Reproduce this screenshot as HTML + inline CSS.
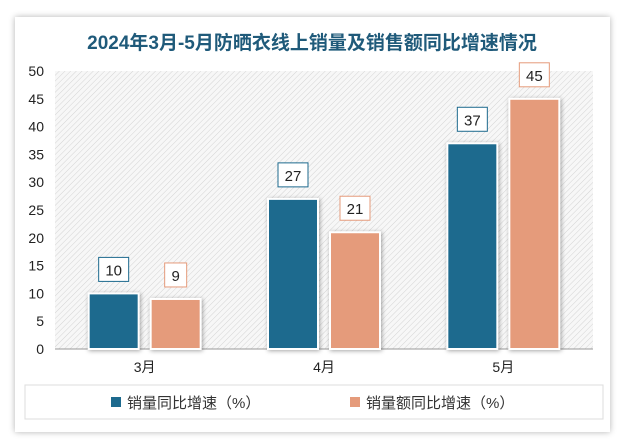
<!DOCTYPE html>
<html><head><meta charset="utf-8"><style>
body{margin:0;width:624px;height:445px;background:#fff;font-family:"Liberation Sans","Noto Sans CJK SC",sans-serif;overflow:hidden}
#card{position:absolute;left:15px;top:17px;width:595px;height:415px;background:#fff;box-shadow:0 0 6px rgba(0,0,0,0.3)}
</style></head><body>
<div id="card"></div>
<svg id="c" width="624" height="445" style="position:absolute;left:0;top:0">
<defs><pattern id="hatch" width="4" height="4" patternUnits="userSpaceOnUse" patternTransform="rotate(45)"><rect width="4" height="4" fill="#f7f7f7"/><line x1="0" y1="0" x2="0" y2="4" stroke="#d4d4d4" stroke-width="1"/></pattern></defs>
<text x="312" y="49" text-anchor="middle" font-size="19" fill="#1f5a7a" font-weight="bold">2024年3月-5月防晒衣线上销量及销售额同比增速情况</text>
<rect x="55" y="71" width="538" height="278" fill="url(#hatch)"/>
<line x1="55" y1="349" x2="593" y2="349" stroke="#999"/>
<g id="yt"></g><g id="bars"></g><g id="xl"></g>
<rect x="25" y="385" width="578" height="34" fill="none" stroke="#ddd"/>
<g><rect x="111" y="397" width="10" height="10" fill="#1d6a8e"/><text x="127" y="408" font-size="15" fill="#333">销量同比增速（%）</text></g>
<g><rect x="350" y="397" width="10" height="10" fill="#e59b7b"/><text x="366" y="408" font-size="15" fill="#333">销量额同比增速（%）</text></g>
</svg>
<script>
const categories=["3月","4月","5月"];
const salesVolume=[10,27,37];
const salesAmount=[9,21,45];
const yTicks=[0,5,10,15,20,25,30,35,40,45,50];
const svg=document.getElementById('c'),NS="http://www.w3.org/2000/svg";
const X0=55,X1=593,Y0=349,Y1=71,YMAX=50;
const y=v=>Y0-(Y0-Y1)*v/YMAX;
const band=(X1-X0)/categories.length;
function mk(t,a,p){const e=document.createElementNS(NS,t);for(const k in a)e.setAttribute(k,a[k]);p.appendChild(e);return e;}
const yt=document.getElementById('yt');
yTicks.forEach(v=>{const t=mk('text',{x:44,y:y(v)+5,'text-anchor':'end','font-size':14,fill:'#222'},yt);


t.textContent=v;});
const bars=document.getElementById('bars'),xl=document.getElementById('xl');
const series=[{d:salesVolume,c:'#1d6a8e',n:'volume'},{d:salesAmount,c:'#e59b7b',n:'amount'}];
categories.forEach((cat,i)=>{const cx=X0+band*(i+0.5);
const t=mk('text',{x:cx,y:372,'text-anchor':'middle','font-size':14,fill:'#222'},xl);


t.textContent=cat;
series.forEach((s,j)=>{const bx=cx-56+j*62,v=s.d[i];
const r=mk('rect',{x:bx,y:y(v),width:50,height:Y0-y(v),fill:s.c,stroke:'#fff','stroke-width':2,style:'filter:drop-shadow(1px 1px 2px rgba(0,0,0,0.35))'},bars);


const w=String(v).length>1?30:22,ly=y(v)-36;
const b=mk('rect',{x:bx+25-w/2,y:ly,width:w,height:24,fill:'#fff',stroke:s.c,'stroke-width':1},bars);


const lt=mk('text',{x:bx+25,y:ly+18,'text-anchor':'middle','font-size':15,fill:'#222'},bars);


lt.textContent=v;});});
</script>
</body></html>
